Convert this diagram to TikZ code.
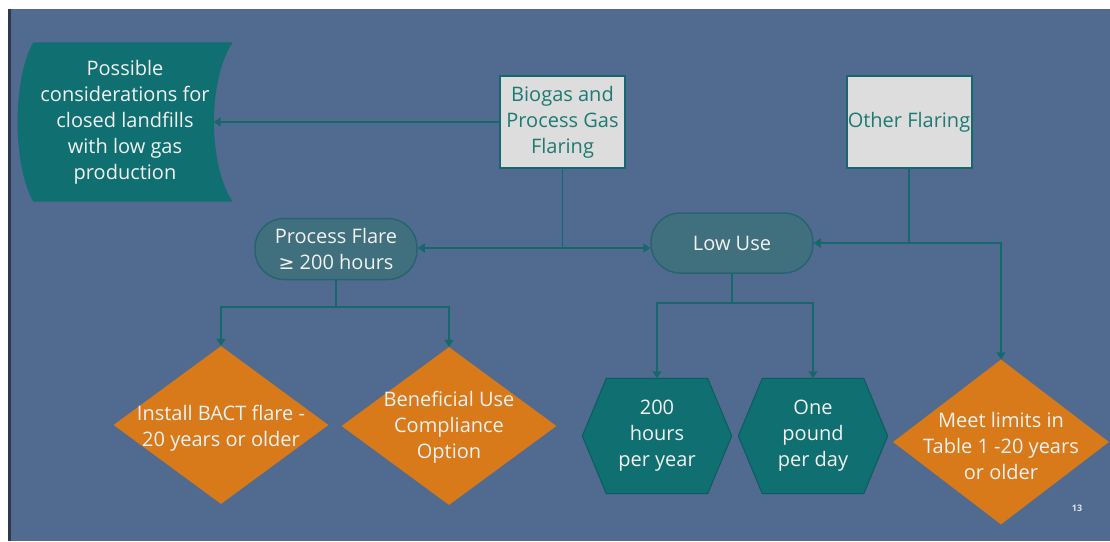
\documentclass[tikz,border=0pt]{standalone}
\usepackage{fontspec}
\setmainfont{Open Sans}
\newfontfamily\symfont{DejaVu Sans}
\usetikzlibrary{arrows.meta,shapes.geometric,calc,backgrounds}
\definecolor{bgblue}{RGB}{80,107,143}
\definecolor{stripe}{RGB}{46,58,76}
\definecolor{tealfill}{RGB}{16,111,112}
\definecolor{tealedge}{RGB}{10,92,96}
\definecolor{rrfill}{RGB}{64,111,126}
\definecolor{rrdraw}{RGB}{40,100,112}
\definecolor{orng}{RGB}{216,121,26}
\definecolor{boxfill}{RGB}{221,221,221}
\definecolor{boxtext}{RGB}{30,122,114}
\definecolor{connc}{RGB}{22,104,108}
\definecolor{wtext}{RGB}{242,242,242}
\begin{document}
\begin{tikzpicture}[x=1pt,y=-1pt,
  txt/.style={font=\fontsize{20}{26}\selectfont, align=center, text=wtext, inner sep=0pt},
  connline/.style={draw=connc, line width=1.8pt},
  arr/.style={connline, -{Triangle[width=9pt,length=7pt]}},
  flbox/.style={draw=connc, line width=2pt, fill=boxfill, minimum width=125pt, minimum height=92pt,
    text=boxtext, font=\fontsize{20}{26}\selectfont, align=center, inner sep=0pt},
  pill/.style={draw=rrdraw, line width=1.5pt, fill=rrfill, rounded corners=29pt,
    minimum width=162pt, minimum height=61pt, txt},
  dia/.style={diamond, fill=orng, minimum width=215pt, minimum height=158pt, inner sep=0pt},
  hexbox/.style={rectangle, minimum width=149pt, minimum height=115pt, inner sep=0pt},
  hexfill/.style={fill=tealfill, draw=tealedge, line width=1pt},
]
\useasboundingbox (0,0) rectangle (1110,541);
\begin{scope}[on background layer]
  \fill[white] (0,0) rectangle (1110,541);
  \fill[bgblue] (8,9) rectangle (1110,541);
  \fill[stripe] (8,9) rectangle (11,541);
\end{scope}

% nodes
\node[hexbox, minimum width=215pt, minimum height=159pt] (poss) at (125,122) {};
\node[txt] (posstxt) at (poss.center) {Possible\\considerations for\\closed landfills\\with low gas\\production};
\coordinate (possR) at ($(poss.east)+(-19,0)$);

\node[flbox] (bio) at (562.5,122) {Biogas and\\Process Gas\\Flaring};
\node[flbox] (of) at (909,122) {Other Flaring};

\node[pill] (pf) at (336,249) {Process Flare\\{\symfont\fontsize{19}{26}\selectfont ≥} 200 hours};
\node[pill, minimum height=60pt] (lu) at (732,243) {Low Use};

\node[dia] (d1) at (221,425) {};
\node[txt] (d1t) at (221,428) {Install BACT flare -\\20 years or older};
\node[dia] (d2) at (449,426) {};
\node[txt] (d2t) at (449,427) {Beneficial Use\\Compliance\\Option};

\node[hexbox] (h1) at (657,436) {};
\node[txt] (h1t) at (h1.center) {200\\hours\\per year};
\node[hexbox] (h2) at (813,436) {};
\node[txt] (h2t) at (h2.center) {One\\pound\\per day};

\node[dia, minimum width=216pt, minimum height=165pt] (meet) at (1001,442) {};
\node[txt] (meett) at (1001,446) {Meet limits in\\Table 1 -20 years\\or older};

\node[font=\fontsize{9}{10}\selectfont\bfseries, text=wtext!90!bgblue, inner sep=0pt] (pg) at (1077,508) {13};

% shapes drawn behind text
\begin{scope}[on background layer]
  \fill[tealfill] ($(poss.north west)+(16,0)$) -- (poss.north east)
    .. controls ($(poss.north east)+(-25,37)$) and ($(poss.south east)+(-25,-37)$) .. (poss.south east)
    -- ($(poss.south west)+(16,0)$)
    .. controls ($(poss.south west)+(-5,-37)$) and ($(poss.north west)+(-5,37)$) .. ($(poss.north west)+(16,0)$)
    -- cycle;
  \foreach \h in {h1,h2}{
    \path[hexfill] (\h.west) -- ($(\h.north west)+(24,0)$) -- ($(\h.north east)+(-24,0)$)
      -- (\h.east) -- ($(\h.south east)+(-24,0)$) -- ($(\h.south west)+(24,0)$) -- cycle;
  }
\end{scope}

% connectors
\draw[arr] (bio.west) -- (possR);
\coordinate (j1) at ($(bio.south)+(0,79)$);
\draw[connline] (bio.south) -- (j1);
\draw[arr] (j1) -- (j1 -| pf.east);
\draw[arr] (j1) -- (j1 -| lu.west);

\coordinate (j2) at ($(of.south)+(0,74)$);
\draw[connline] (of.south) -- (j2);
\draw[arr] (j2) -- (lu.east);
\draw[arr] (j2) -| (meet.north);

\coordinate (j3) at ($(pf.south)+(0,27)$);
\draw[connline] (pf.south) -- (j3);
\draw[arr] (j3) -| (d1.north);
\draw[arr] (j3) -| (d2.north);

\coordinate (j4) at ($(lu.south)+(0,29)$);
\draw[connline] (lu.south) -- (j4);
\draw[arr] (j4) -| (h1.north);
\draw[arr] (j4) -| (h2.north);
\end{tikzpicture}
\end{document}
